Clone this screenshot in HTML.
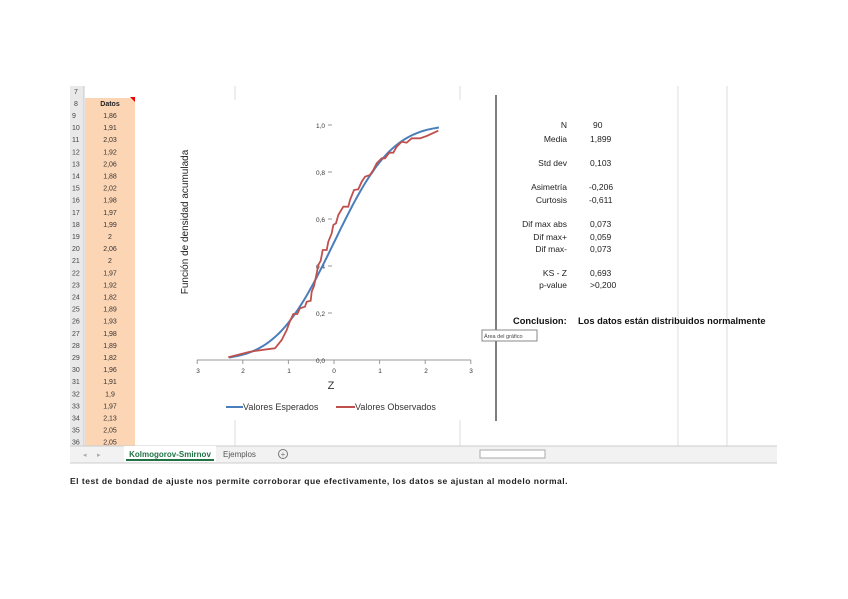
<!DOCTYPE html>
<html><head><meta charset="utf-8"><style>
body{margin:0;width:848px;height:599px;background:#fff;position:relative;overflow:hidden;font-family:"Liberation Sans",sans-serif}
</style></head><body>
<svg width="848" height="599" style="position:absolute;left:0;top:0" font-family="Liberation Sans, sans-serif">
<rect x="70" y="86" width="707" height="376" fill="#fff"/>
<rect x="70" y="86" width="14" height="360" fill="#e9e9e9"/>
<line x1="84" y1="86" x2="84" y2="446" stroke="#c8c8c8"/>
<rect x="85" y="98" width="50" height="348" fill="#fcd5b4"/>
<polygon points="130,97 135,97 135,102" fill="#e00"/>
<g stroke="#dcdcdc"><line x1="235" y1="86" x2="235" y2="100"/><line x1="460" y1="86" x2="460" y2="100"/><line x1="678" y1="86" x2="678" y2="446"/><line x1="727" y1="86" x2="727" y2="446"/><line x1="235" y1="420" x2="235" y2="446"/><line x1="460" y1="420" x2="460" y2="446"/></g>
<line x1="496" y1="95" x2="496" y2="421" stroke="#555" stroke-width="1.5"/>
<g id="rows" font-size="7" fill="#444"></g>
<rect x="70" y="446" width="707" height="17" fill="#f2f2f2"/>
<line x1="70" y1="446" x2="777" y2="446" stroke="#ccc"/>
<line x1="70" y1="463" x2="777" y2="463" stroke="#ccc"/>
<rect x="124" y="446" width="92" height="16" fill="#fff"/>
<line x1="126" y1="460" x2="214" y2="460" stroke="#217346" stroke-width="2"/>
<text x="170" y="457" font-size="8" font-weight="bold" fill="#217346" text-anchor="middle">Kolmogorov-Smirnov</text>
<text x="223" y="457" font-size="8" fill="#555">Ejemplos</text>
<circle cx="283" cy="454" r="4.5" fill="none" stroke="#777"/><text x="283" y="457" font-size="8" fill="#777" text-anchor="middle">+</text>
<text x="83" y="457" font-size="7" fill="#aaa">◂</text><text x="97" y="457" font-size="7" fill="#aaa">▸</text>
<rect x="480" y="450" width="65" height="8" fill="#fff" stroke="#aaa"/>
<line x1="197" y1="360" x2="471" y2="360" stroke="#999"/>
<g id="ticks" stroke="#999"></g>
<g font-size="6.5" fill="#333" text-anchor="middle">
<text x="198" y="373">3</text><text x="243" y="373">2</text><text x="289" y="373">1</text><text x="334" y="373">0</text><text x="380" y="373">1</text><text x="426" y="373">2</text><text x="471" y="373">3</text>
</g>
<g font-size="6.5" fill="#333" text-anchor="end">
<text x="325" y="128">1,0</text><text x="325" y="175">0,8</text><text x="325" y="222">0,6</text><text x="325" y="269">0,4</text><text x="325" y="316">0,2</text><text x="325" y="363">0,0</text>
</g>
<g stroke="#999"><line x1="328" y1="125" x2="332" y2="125"/><line x1="328" y1="172" x2="332" y2="172"/><line x1="328" y1="219" x2="332" y2="219"/><line x1="328" y1="266" x2="332" y2="266"/><line x1="328" y1="313" x2="332" y2="313"/></g>
<path id="blue" fill="none" stroke="#4a7ebb" stroke-width="2"/>
<path id="red" fill="none" stroke="#c0504d" stroke-width="1.8" d="M228.3,357.3L250,351.7L266.7,349.3L275,348.3L281.7,340L286.7,330L290,321L293.3,314L297.3,314L300,308.3L305,306.7L306.7,301.7L310.7,300.7L311.7,291.7L314,286L316.7,273.3L318.3,265L320.7,260.7L322.7,250L326.7,250L328.3,241.7L331.7,233.3L333.3,225L336,223.3L338.3,215L343.3,206.7L348.3,206.7L350,200L354,190L358.3,189.3L361.7,181.7L365,176.7L370,175L373.3,170L376.7,163.3L381.7,158.3L385,158.3L389.3,152.7L393.3,152.7L396.7,146.7L401.7,141.7L406.7,142.7L411.7,138.3L420,138.3L426.7,136L438.3,130.7"/>
<text x="331" y="389" font-size="11" fill="#333" text-anchor="middle">Z</text>
<text transform="translate(188,222) rotate(-90)" font-size="10" fill="#222" text-anchor="middle">Función de densidad acumulada</text>
<line x1="226" y1="407" x2="243" y2="407" stroke="#4a7ebb" stroke-width="2"/>
<text x="243" y="410" font-size="9" fill="#333">Valores Esperados</text>
<line x1="336" y1="407" x2="355" y2="407" stroke="#c0504d" stroke-width="2"/>
<text x="355" y="410" font-size="9" fill="#333">Valores Observados</text>
<g font-size="8.5" fill="#222">
<g text-anchor="end">
<text x="567" y="128">N</text><text x="567" y="142">Media</text><text x="567" y="166">Std dev</text><text x="567" y="190">Asimetría</text><text x="567" y="203">Curtosis</text><text x="567" y="227">Dif max abs</text><text x="567" y="240">Dif max+</text><text x="567" y="252">Dif max-</text><text x="567" y="276">KS - Z</text><text x="567" y="288">p-value</text>
</g>
<text x="593" y="128">90</text><text x="590" y="142">1,899</text><text x="590" y="166">0,103</text><text x="589" y="190">-0,206</text><text x="589" y="203">-0,611</text><text x="590" y="227">0,073</text><text x="590" y="240">0,059</text><text x="590" y="252">0,073</text><text x="590" y="276">0,693</text><text x="590" y="288">&gt;0,200</text>
</g>
<text x="513" y="324" font-size="9.3" font-weight="bold" fill="#111">Conclusion:</text>
<text x="578" y="324" font-size="9.3" font-weight="bold" fill="#111">Los datos están distribuidos normalmente</text>
<rect x="482" y="330" width="55" height="11" fill="#fff" stroke="#888"/>
<text x="484" y="338" font-size="5.5" fill="#444">Área del gráfico</text>
<text x="70" y="484" font-size="8.5" font-weight="bold" fill="#222" letter-spacing="0.5">El test de bondad de ajuste nos permite corroborar que efectivamente, los datos se ajustan al modelo normal.</text>
</svg>
<script>
var vals=["1,86","1,91","2,03","1,92","2,06","1,88","2,02","1,98","1,97","1,99","2","2,06","2","1,97","1,92","1,82","1,89","1,93","1,98","1,89","1,82","1,96","1,91","1,9","1,97","2,13","2,05","2,05"];
var g=document.getElementById('rows'),s='';
s+='<text x="74" y="94">7</text><text x="74" y="106">8</text><text x="110" y="106" text-anchor="middle" font-weight="bold" fill="#222">Datos</text>';
for(var i=0;i<vals.length;i++){var y=118+i*12.1;s+='<text x="72" y="'+y+'">'+(9+i)+'</text><text x="110" y="'+y+'" text-anchor="middle" fill="#333">'+vals[i]+'</text>';}
g.innerHTML=s;
var t='';for(var k=-3;k<=3;k++){var x=334+k*45.6;t+='<line x1="'+x+'" y1="360" x2="'+x+'" y2="364"/>';}
document.getElementById('ticks').innerHTML=t;
function phi(z){var a=Math.abs(z)/Math.SQRT2,tt=1/(1+0.3275911*a);var e=1-(((((1.061405429*tt-1.453152027)*tt)+1.421413741)*tt-0.284496736)*tt+0.254829592)*tt*Math.exp(-a*a);return 0.5*(1+(z<0?-e:e));}
var d='';for(var z=-2.3;z<=2.31;z+=0.05){d+=(d?'L':'M')+(334+z*45.6).toFixed(1)+','+(360-235*phi(z)).toFixed(1);}
document.getElementById('blue').setAttribute('d',d);
</script>
</body></html>
